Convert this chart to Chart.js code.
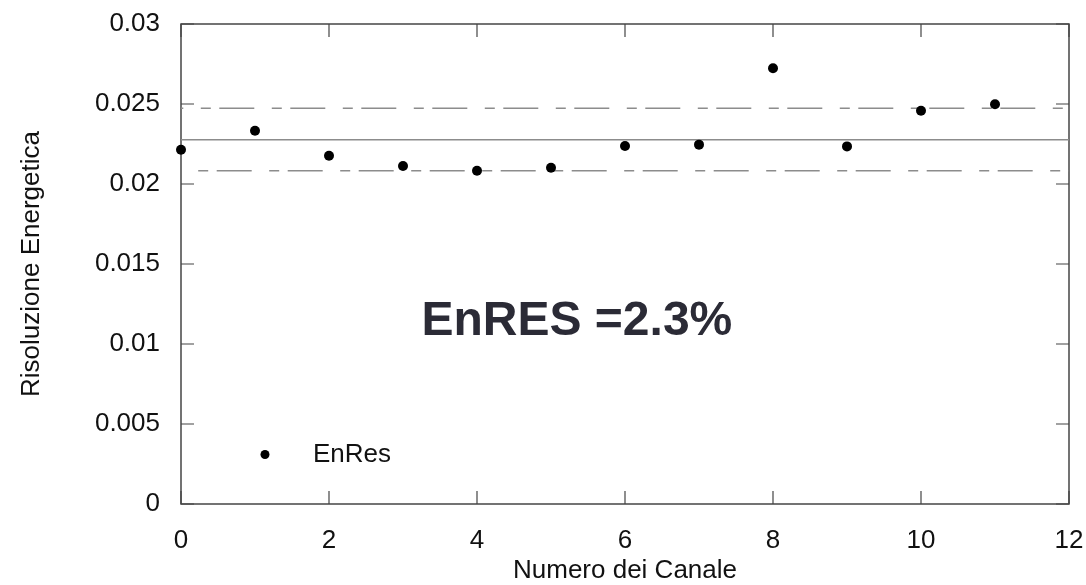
<!DOCTYPE html>
<html><head><meta charset="utf-8">
<script src="https://cdn.jsdelivr.net/npm/chart.js@4.4.1/dist/chart.umd.min.js"></script>
<style>html,body{margin:0;padding:0;background:#fff;}#wrap{width:1086px;height:585px;}</style>
</head><body><div id="wrap"><canvas id="c" width="1086" height="585"></canvas></div>
<script>
const channels = [0,1,2,3,4,5,6,7,8,9,10,11];
const enRes = [0.02214,0.02333,0.02177,0.02112,0.02083,0.02102,0.02237,0.02246,0.02723,0.02235,0.02458,0.02498];
const meanLine = 0.02277;
const upperLine = 0.02473;
const lowerLine = 0.02083;
const lineRange = [0,12];
const xTicks = [0,2,4,6,8,10,12];
const xTickLabels = ['0','2','4','6','8','10','12'];
const yTicks = [0,0.005,0.01,0.015,0.02,0.025,0.03];
const yTickLabels = ['0','0.005','0.01','0.015','0.02','0.025','0.03'];
const seriesLabel = 'EnRes';
const xTitle = 'Numero dei Canale';
const yTitle = 'Risoluzione Energetica';
const annotationText = 'EnRES =2.3%';

const FONT = "'Liberation Sans', Arial, Helvetica, sans-serif";
const LINE_COLOR = '#8c8c8c';
const FRAME_COLOR = '#454545';

const framePlugin = {
  id: 'frame',
  beforeDatasetsDraw(chart) {
    const {ctx, chartArea: a, scales: {x, y}} = chart;
    ctx.save();
    ctx.strokeStyle = FRAME_COLOR;
    ctx.lineWidth = 1.5;
    ctx.strokeRect(a.left, a.top, a.right - a.left, a.bottom - a.top);
    const tl = 13;
    ctx.beginPath();
    x.ticks.forEach(t => {
      const px = x.getPixelForValue(t.value);
      ctx.moveTo(px, a.bottom); ctx.lineTo(px, a.bottom - tl);
      ctx.moveTo(px, a.top); ctx.lineTo(px, a.top + tl);
    });
    y.ticks.forEach(t => {
      const py = y.getPixelForValue(t.value);
      ctx.moveTo(a.left, py); ctx.lineTo(a.left + tl, py);
      ctx.moveTo(a.right, py); ctx.lineTo(a.right - tl, py);
    });
    ctx.lineWidth = 1.2;
    ctx.stroke();
    ctx.restore();
  },
  afterDraw(chart) {
    const {ctx, chartArea: a} = chart;
    ctx.save();
    // legend
    const lx = a.left + 84, ly = a.bottom - 49.5;
    ctx.fillStyle = '#000';
    ctx.beginPath(); ctx.arc(lx, ly, 4.5, 0, Math.PI * 2); ctx.fill();
    ctx.fillStyle = '#111';
    ctx.font = '26px ' + FONT;
    ctx.textBaseline = 'middle';
    ctx.textAlign = 'left';
    ctx.fillText(chart.data.datasets[0].label, a.left + 132, ly);
    // annotation
    ctx.fillStyle = '#2b2b36';
    ctx.font = 'bold 48px ' + FONT;
    ctx.textAlign = 'center';
    ctx.fillText(annotationText, a.left + (a.right - a.left) * 0.4458, a.top + (a.bottom - a.top) * 0.6196);
    ctx.restore();
  }
};

const hLine = (v, dash, off) => ({
  type: 'line',
  data: lineRange.map(xv => ({x: xv, y: v})),
  borderColor: LINE_COLOR,
  borderWidth: 1.5,
  borderDash: dash,
  borderDashOffset: off,
  pointRadius: 0,
  showLine: true,
  fill: false,
  order: 2
});

new Chart(document.getElementById('c'), {
  type: 'scatter',
  data: {
    datasets: [
      {
        label: seriesLabel,
        data: channels.map((c, i) => ({x: c, y: enRes[i]})),
        backgroundColor: '#000',
        borderWidth: 0,
        pointRadius: 5,
        pointHoverRadius: 5,
        clip: false,
        order: 0
      },
      hLine(meanLine, [], 0),
      hLine(upperLine, [35, 17.5, 10, 8.5], 32.7),
      hLine(lowerLine, [35, 17.5, 10, 8.5], 35.3)
    ]
  },
  options: {
    responsive: false,
    animation: false,
    devicePixelRatio: 1,
    layout: {autoPadding: false, padding: {top: 24, right: 17, left: 0, bottom: 0}},
    plugins: {legend: {display: false}, tooltip: {enabled: false}},
    scales: {
      x: {
        type: 'linear', min: 0, max: 12,
        afterBuildTicks: s => { s.ticks = xTicks.map(v => ({value: v})); },
        grid: {display: false, drawTicks: false},
        border: {display: false},
        ticks: {
          font: {size: 26, family: FONT}, color: '#111', padding: 21,
          maxRotation: 0, autoSkip: false,
          callback: (v, i) => xTickLabels[i]
        },
        title: {display: true, text: xTitle, font: {size: 26, family: FONT}, color: '#111', padding: {top: 0, bottom: -1}},
        afterFit: s => { s.height = 81; s.paddingLeft = 0; s.paddingRight = 0; }
      },
      y: {
        type: 'linear', min: 0, max: 0.03,
        afterBuildTicks: s => { s.ticks = yTicks.map(v => ({value: v})); },
        grid: {display: false, drawTicks: false},
        border: {display: false},
        ticks: {
          font: {size: 26, family: FONT}, color: '#111', padding: 21, autoSkip: false,
          callback: (v, i) => yTickLabels[i]
        },
        title: {display: true, text: yTitle, font: {size: 26, family: FONT}, color: '#111', padding: {top: 16, bottom: 0}},
        afterFit: s => { s.width = 181; s.paddingTop = 0; s.paddingBottom = 0; }
      }
    }
  },
  plugins: [framePlugin]
});
</script></body></html>
